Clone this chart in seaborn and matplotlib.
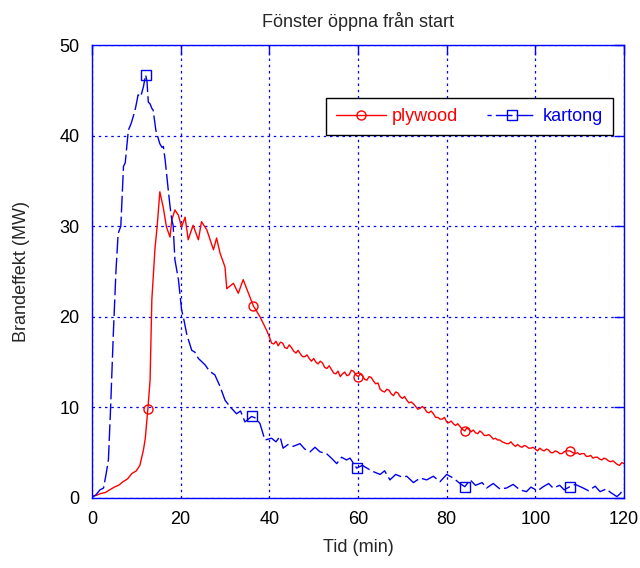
import numpy as np
import pandas as pd
import matplotlib
matplotlib.use("Agg")
import matplotlib.pyplot as plt
import seaborn as sns

title = "Fönster öppna från start"
xlabel = "Tid (min)"
ylabel = "Brandeffekt (MW)"
xticks = [0, 20, 40, 60, 80, 100, 120]
yticks = [0, 10, 20, 30, 40, 50]

# plywood (red)
ply_t = [0, 1, 2, 3, 4, 5, 6, 7, 8, 9, 10, 10.8, 11.6, 12.0, 12.6, 13.1, 13.5, 14.2, 14.7, 15.3,
         16.1, 16.8, 17.6, 18.0, 18.7, 19.5, 20.2, 21.0, 21.7, 22.8, 24.0, 24.7, 25.9, 27.4, 28.1,
         28.9, 30.0, 30.4, 31.9, 33.0, 34.1, 35.3, 36.4, 37.9, 39.4,
         40, 40.5, 41, 41.5, 42, 42.5, 43, 43.5, 44, 44.5, 45, 45.5, 46, 46.5, 47, 47.5, 48, 48.5,
         49, 49.5, 50, 50.5, 51, 51.5, 52, 52.5, 53, 53.5, 54, 54.5, 55, 55.5, 56, 56.5, 57, 57.5,
         58, 58.5, 59, 59.5, 60.1, 60.5, 61, 61.5, 62, 62.5, 63, 63.5, 64, 64.5, 65, 65.5, 66, 66.5,
         67, 67.5, 68, 68.5, 69, 69.5, 70, 70.5, 71, 71.5, 72, 72.5, 73, 73.5, 74, 74.5, 75, 75.5,
         76, 76.5, 77, 77.5, 78, 78.5, 79, 79.5, 80, 80.5, 81, 81.5, 82, 82.5, 83, 83.5, 84.1, 84.5,
         85, 85.5, 86, 86.5, 87, 87.5, 88, 88.5, 89, 89.5, 90, 90.5, 91, 91.5, 92, 92.5, 93, 93.5,
         94, 94.5, 95, 95.5, 96, 96.5, 97, 97.5, 98, 98.5, 99, 99.5, 100, 100.5, 101, 101.5, 102,
         102.5, 103, 103.5, 104, 104.5, 105, 105.5, 106, 106.5, 107, 107.8, 108.5, 109, 109.5, 110,
         110.5, 111, 111.5, 112, 112.5, 113, 113.5, 114, 114.5, 115, 115.5, 116, 116.5, 117, 117.5,
         118, 118.5, 119, 119.5, 120]
ply_v = [0.2, 0.3, 0.5, 0.6, 0.9, 1.2, 1.4, 1.8, 2.1, 2.7, 3.0, 3.6, 5.3, 6.5, 9.8, 13.0, 21.9, 27.5, 30.0, 33.8,
         32.0, 29.9, 28.8, 30.7, 31.8, 31.2, 29.9, 31.0, 28.5, 30.1, 28.5, 30.5, 29.6, 27.4, 28.7,
         27.0, 25.5, 23.1, 23.7, 22.6, 24.1, 22.6, 21.2, 20.0, 18.5,
         17.8, 17.1, 17.0, 17.3, 16.8, 17.2, 17.1, 16.6, 16.5, 16.9, 16.6, 16.2, 16.0, 16.3, 15.9, 15.6, 15.6, 15.8,
         15.4, 15.1, 15.4, 15.0, 14.8, 15.1, 14.9, 14.4, 14.3, 14.6, 14.2, 13.8, 13.7, 14.0, 13.4, 13.7, 13.9, 13.5,
         13.6, 14.1, 14.0, 13.6, 13.4, 13.7, 13.5, 13.1, 13.0, 13.4, 13.3, 12.9, 12.6, 12.7, 12.0, 11.8, 11.7, 12.0,
         11.9, 11.5, 11.3, 11.7, 11.6, 11.2, 11.0, 11.2, 10.8, 10.5, 10.6, 10.4, 10.1, 9.8, 9.9, 10.1, 9.9, 9.5,
         9.4, 9.6, 9.3, 8.9, 8.9, 8.7, 8.7, 8.9, 8.4, 8.3, 8.5, 8.2, 8.0, 8.2, 7.9, 7.6, 7.4, 7.7,
         7.6, 7.3, 7.5, 7.2, 7.1, 7.4, 7.2, 6.9, 6.9, 7.0, 6.8, 6.5, 6.6, 6.4, 6.4, 6.2, 6.1, 6.0,
         6.0, 6.2, 5.9, 5.7, 5.9, 5.7, 5.6, 5.8, 5.7, 5.5, 5.5, 5.6, 5.4, 5.2, 5.5, 5.3, 5.2,
         5.4, 5.3, 5.0, 5.0, 5.2, 5.1, 4.9, 4.9, 5.1, 5.2, 5.2, 5.0, 4.9, 5.0, 4.8,
         4.9, 4.9, 4.6, 4.6, 4.7, 4.4, 4.5, 4.5, 4.3, 4.2, 4.4, 4.3, 4.1, 4.0, 4.1,
         3.9, 3.7, 3.6, 3.9, 3.8]
ply_marks = [12.6, 36.4, 60.1, 84.1, 107.8]

# kartong (blue)
kar_t = [0, 0.8, 1.8, 2.6, 3.2, 3.7, 4.2, 4.8, 5.4, 5.9, 6.5, 7.1, 7.5, 8.2, 8.8, 9.3, 9.8, 10.4, 11.0,
         11.6, 12.1, 12.4, 12.7, 13.1, 13.5, 13.8, 14.4, 15.3, 15.8, 16.1, 16.5, 17.2, 17.6, 18.0,
         18.3, 18.7, 19.5, 20.2, 20.8, 21.4, 22.5, 23.2, 24.0, 25.5, 26.5, 27.7, 28.9, 30.0, 31.1,
         32.6, 33.5, 34.5, 36.0, 37.0, 37.9, 39.0, 40.5, 41.5, 42.4, 43.1, 44.2, 45.4, 46.9, 48.0,
         49.2, 50.3, 51.4, 52.9, 54.0, 55.2, 56.3, 57.4, 58.2, 59.7, 61.0, 62.7, 63.5, 65.0, 66.0,
         67.2, 68.5, 70.0, 71.0, 72.5, 74.0, 75.5, 77.0, 78.5, 80.0, 81.5, 83.0, 84.1, 85.3, 86.5,
         88.0, 89.0, 90.5, 92.0, 93.5, 95.0, 96.5, 98.0, 99.0, 100.5, 101.8, 103.0, 104.0, 105.5,
         106.5, 107.8, 109.0, 110.8, 112.0, 113.5, 114.6, 116.0, 117.0, 118.4, 119.2, 119.9]
kar_v = [0.1, 0.3, 0.9, 1.1, 2.7, 4.2, 10.0, 18.0, 25.0, 29.2, 30.0, 36.6, 37.0, 40.6, 41.3, 42.1, 43.0, 44.5, 44.3,
         45.4, 46.7, 46.0, 43.7, 43.5, 43.0, 42.8, 40.6, 39.1, 38.7, 38.8, 37.3, 34.0, 32.2, 30.7,
         30.1, 26.3, 24.1, 20.8, 19.5, 18.0, 16.3, 16.1, 15.4, 14.7, 14.0, 13.6, 12.3, 10.8, 10.1,
         9.3, 9.6, 8.4, 9.0, 8.8, 8.2, 6.4, 6.6, 6.2, 6.8, 5.5, 5.9, 5.7, 6.0, 5.4,
         5.1, 5.6, 5.1, 4.9, 4.4, 3.8, 4.5, 4.2, 4.4, 3.3, 3.6, 3.1, 2.9, 2.6, 3.0,
         2.0, 2.6, 2.3, 2.4, 1.7, 2.2, 2.0, 2.4, 1.8, 2.6, 2.2, 1.6, 1.25, 2.0, 1.4,
         1.7, 1.1, 1.6, 1.0, 1.1, 1.5, 0.9, 0.7, 1.2, 0.8, 1.25, 1.6, 1.1, 1.4,
         0.9, 1.25, 1.5, 1.1, 0.8, 1.3, 0.7, 1.0, 0.6, 0.15, 0.5, 1.1]
kar_marks = [12.1, 36.0, 59.7, 84.1, 107.8]

sns.set_theme(style="white")
plt.rcParams["font.family"] = ["Liberation Sans", "DejaVu Sans"]
plt.rcParams["font.size"] = 13

fig = plt.figure(figsize=(6.4, 5.68), dpi=100)
ax = fig.add_axes([92 / 640, 1 - 498 / 568, 532 / 640, 453 / 568])

ply_t_a = np.array(ply_t)
kar_t_a = np.array(kar_t)
ply_idx = [int(np.argmin(np.abs(ply_t_a - m))) for m in ply_marks]
kar_idx = [int(np.argmin(np.abs(kar_t_a - m))) for m in kar_marks]

sns.lineplot(x=ply_t, y=ply_v, ax=ax, color="#ff0000", lw=1.0, marker="o", markevery=ply_idx,
             markerfacecolor="none", markeredgecolor="#ff0000", markersize=6.5, markeredgewidth=1.0,
             estimator=None, sort=False, label="plywood")
sns.lineplot(x=kar_t, y=kar_v, ax=ax, color="#0000ee", lw=1.0, marker="s", markevery=kar_idx,
             markerfacecolor="none", markeredgecolor="#0000ee", markersize=6.5, markeredgewidth=1.0,
             estimator=None, sort=False, label="kartong")
ax.lines[1].set_linestyle((0, (12, 3)))

ax.set_xlim(0, 120)
ax.set_ylim(0, 50)
ax.set_xticks(xticks)
ax.set_yticks(yticks)
ax.grid(True, color="#0000ff", linestyle=(0, (2, 3)), lw=0.9)
for s in ax.spines.values():
    s.set_color("#0000ff")
    s.set_linewidth(1.0)
    s.set_visible(True)
ax.tick_params(axis="both", direction="in", length=7, width=1, color="#0000ff",
               labelcolor="black", labelsize=13, top=True, right=True)
ax.tick_params(axis="x", pad=9)
ax.tick_params(axis="y", pad=9)

ax.set_title(title, fontsize=13, pad=13)
ax.set_xlabel(xlabel, fontsize=13, labelpad=8)
ax.set_ylabel(ylabel, fontsize=13, labelpad=21)

leg = ax.legend(loc="upper right", bbox_to_anchor=(0.979, 0.883), borderaxespad=0, ncol=2,
                fontsize=13, frameon=True, fancybox=False, edgecolor="black", framealpha=1,
                handlelength=2.8, handletextpad=0.3, columnspacing=1.6, borderpad=0.55,
                labelcolor="linecolor")
leg.get_frame().set_linewidth(1.0)
leg.get_lines()[1].set_linestyle((9, (12, 3)))

fig.savefig("out.png", dpi=100)
